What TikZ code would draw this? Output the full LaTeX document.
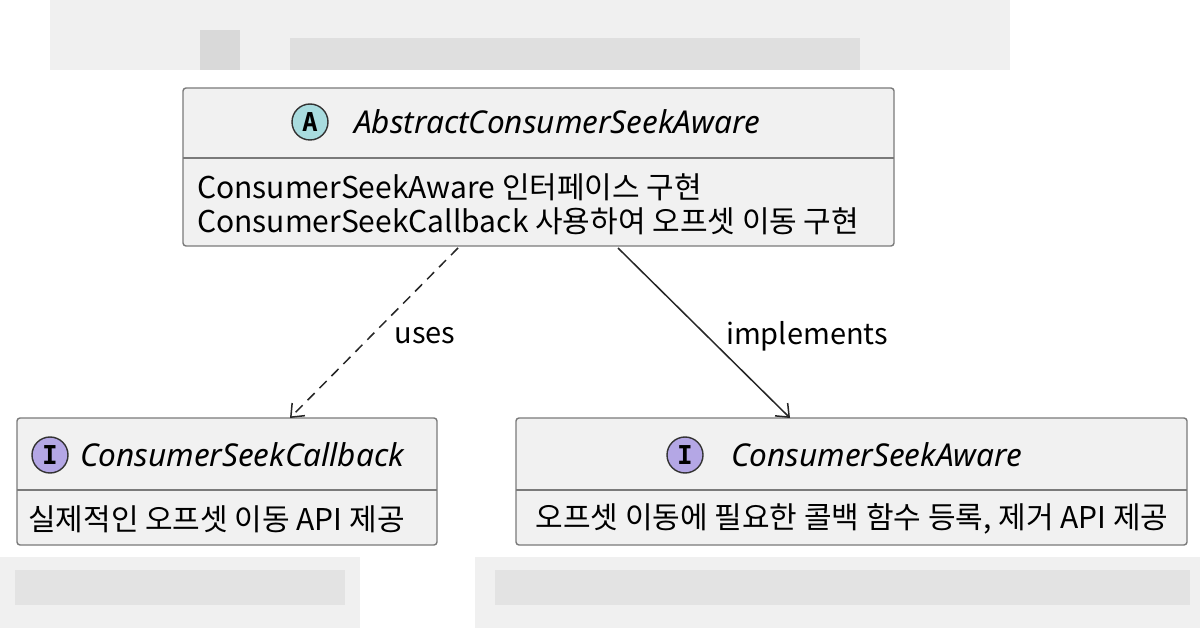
\documentclass[tikz,border=0pt]{standalone}
\usepackage{fontspec}
\setmainfont{Noto Sans CJK KR}
\newfontfamily\hdrfont{Noto Sans}
\newfontfamily\badgefont{DejaVu Sans Mono Bold}
\usetikzlibrary{arrows.meta}
\definecolor{boxfill}{HTML}{F1F1F1}
\definecolor{boxline}{HTML}{7A7A7A}
\definecolor{acirc}{HTML}{A9DCDF}
\definecolor{icirc}{HTML}{B4A7E5}
\begin{document}
\begin{tikzpicture}[x=1pt,y=-1pt,
  cls/.style={draw=boxline,fill=boxfill,line width=1.4pt,rounded corners=3pt},
  sep/.style={draw=boxline,line width=1.4pt},
  txt/.style={font=\fontsize{30}{32}\selectfont,inner sep=0pt},
  hdr/.style={font=\hdrfont\fontsize{31.5}{34}\selectfont\itshape,inner sep=0pt},
  badge/.style={circle,draw=black!80,line width=1.4pt,minimum size=36pt,inner sep=0pt,font=\badgefont\fontsize{26}{26}\selectfont},
  lbl/.style={font=\fontsize{29}{31}\selectfont,inner sep=0pt},
  conn/.style={line width=1.5pt,draw=black!85,-{Straight Barb[length=11pt,width=18pt,line width=1.5pt]}}]
\useasboundingbox (0,0) rectangle (1200,628);
\fill[white] (0,0) rectangle (1200,628);
% blurred bands
\fill[gray!12] (50,0) rectangle (1010,70);
\fill[gray!30] (200,30) rectangle (240,70);
\fill[gray!25] (290,38) rectangle (860,70);
\fill[gray!12] (0,557) rectangle (360,628);
\fill[gray!12] (475,557) rectangle (1200,628);
\fill[gray!22] (15,570) rectangle (345,605);
\fill[gray!22] (495,570) rectangle (1190,605);
% top class
\draw[cls] (183,88) rectangle (894,246);
\draw[sep] (183,158) -- (894,158);
\node[badge,fill=acirc] (ba) at (310,122) {A};
\node[hdr,anchor=west] (ta) at (354,122) {AbstractConsumerSeekAware};
\node[txt,anchor=west] (a1) at (197,187) {ConsumerSeekAware 인터페이스 구현};
\node[txt,anchor=west] (a2) at (197,221) {ConsumerSeekCallback 사용하여 오프셋 이동 구현};
% left class
\draw[cls] (17,418) rectangle (437,545);
\draw[sep] (17,490) -- (437,490);
\node[badge,fill=icirc] (bl) at (50,455) {I};
\node[hdr,anchor=west] (tl) at (80,455) {ConsumerSeekCallback};
\node[txt,anchor=west] (l1) at (28,519) {실제적인 오프셋 이동 API 제공};
% right class
\draw[cls] (516,418) rectangle (1187,545);
\draw[sep] (516,490) -- (1187,490);
\node[badge,fill=icirc] (br) at (685,455) {I};
\node[hdr,anchor=west] (tr) at (731,455) {ConsumerSeekAware};
\node[txt] (r1) at (852,519) {오프셋 이동에 필요한 콜백 함수 등록, 제거 API 제공};
% connectors
\coordinate (s1) at (458,248); \coordinate (e1) at (290,418);
\coordinate (s2) at (618,248); \coordinate (e2) at (790,418);
\draw[conn,dash pattern=on 10pt off 7pt] (s1) -- (e1);
\draw[conn] (s2) -- (e2);
\node[lbl] (u) at (425,336) {uses};
\node[lbl] (im) at (807,336) {implements};
\end{tikzpicture}
\end{document}
